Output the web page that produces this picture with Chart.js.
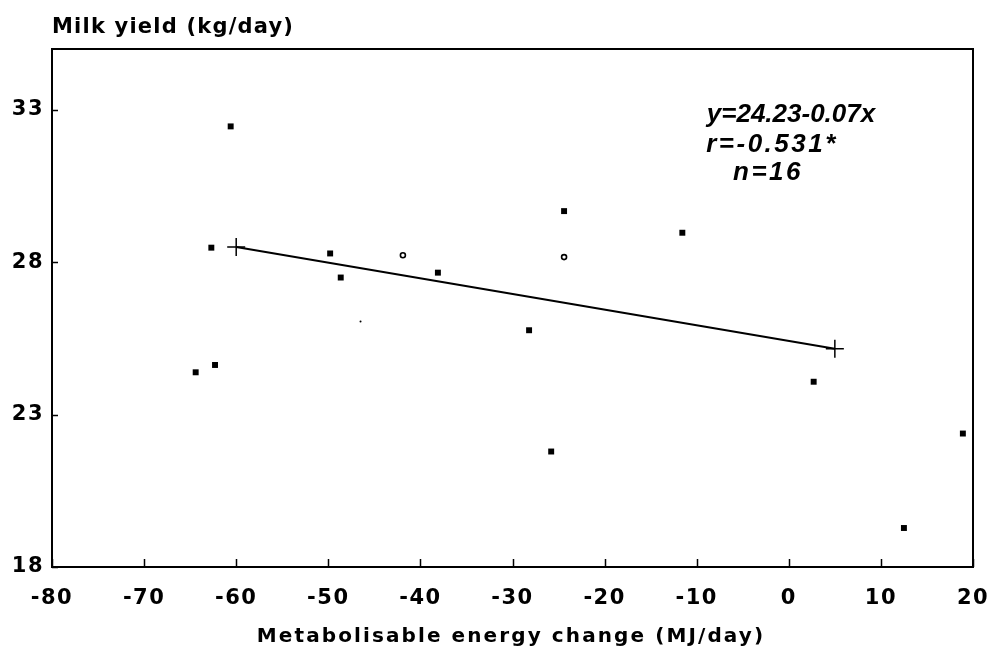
<!DOCTYPE html>
<html>
<head>
<meta charset="utf-8">
<script src="https://cdn.jsdelivr.net/npm/chart.js@4/dist/chart.umd.min.js"></script>
<style>
  body { margin: 0; background: #fff; }
</style>
</head>
<body>
<canvas id="milkChart" width="992" height="649"></canvas>
<script>
// energy change (MJ/day) vs milk yield (kg/day)
const pointsX = [-64.4, -62.3, -62.7, -60.6, -49.8, -48.65, -38.1, -28.2, -25.8, -24.4, -11.56, 2.7, 12.5, 18.9];
const pointsY = [24.39, 24.63, 28.48, 32.46, 28.29, 27.5, 27.66, 25.77, 21.79, 29.68, 28.97, 24.08, 19.28, 22.38];
// the two small open circles
const openX = [-41.9, -24.4];
const openY = [28.23, 28.17];
// tiny dot
const dotX = [-46.5];
const dotY = [26.06];
// fitted line as drawn (end points marked with +)
const fitX = [-60, 5];
const fitY = [28.5, 25.16];

const xTicks = [-80, -70, -60, -50, -40, -30, -20, -10, 0, 10, 20];
const yTicks = [18, 23, 28, 33];
const equationLines = ["y=24.23-0.07x", "r=-0.531*", "n=16"];

const toPoints = (xs, ys) => xs.map((x, i) => ({ x: x, y: ys[i] }));

// wide letter spacing like the plotter font
const spacing = {
	id: "spacing",
	beforeUpdate(chart) {
		chart.ctx.letterSpacing = "1.5px";
	},
	beforeDraw(chart) {
		chart.ctx.letterSpacing = "1.5px";
	},
};

const frameAndTicks = {
	id: "frameAndTicks",
	afterDraw(chart) {
		const {
			ctx,
			chartArea: { top, bottom, left, right },
			scales: { x, y },
		} = chart;
		ctx.save();
		ctx.strokeStyle = "#000";
		ctx.lineWidth = 2;
		ctx.strokeRect(left, top, right - left, bottom - top);

		ctx.lineWidth = 1.5;
		ctx.beginPath();
		xTicks.forEach((v) => {
			const px = Math.round(x.getPixelForValue(v)) + 0.5;
			ctx.moveTo(px, bottom);
			ctx.lineTo(px, bottom - 8);
		});
		yTicks.forEach((v) => {
			const py = Math.round(y.getPixelForValue(v)) + 0.5;
			ctx.moveTo(left, py);
			ctx.lineTo(left + 6, py);
		});
		ctx.stroke();

		// axis titles
		ctx.fillStyle = "#000";
		ctx.textBaseline = "alphabetic";
		ctx.font = "bold 21px 'DejaVu Sans'";
		ctx.letterSpacing = "1.2px";
		ctx.textAlign = "left";
		ctx.fillText("Milk yield (kg/day)", 52, 33);
		ctx.font = "bold 20px 'DejaVu Sans'";
		ctx.letterSpacing = "2.1px";
		ctx.textAlign = "center";
		ctx.fillText("Metabolisable energy change (MJ/day)", 511, 642);

		// regression text
		ctx.font = "italic bold 26px 'Liberation Sans'";
		const centres = [791, 772, 768];
		const baselines = [122, 152, 180];
		const gaps = ["0px", "2.5px", "2.5px"];
		equationLines.forEach((t, i) => {
			ctx.letterSpacing = gaps[i];
			ctx.fillText(t, centres[i], baselines[i]);
		});
		ctx.restore();
	},
};

const ctx = document.getElementById("milkChart");

const tickFont = { family: "'DejaVu Sans'", size: 21, weight: "bold" };

const config = {
	type: "scatter",
	data: {
		datasets: [
			{
				data: toPoints(pointsX, pointsY),
				pointStyle: "rect",
				pointRadius: 4.2,
				backgroundColor: "#000",
				borderColor: "#000",
				borderWidth: 0,
			},
			{
				data: toPoints(openX, openY),
				pointStyle: "circle",
				pointRadius: 2.5,
				backgroundColor: "#fff",
				borderColor: "#000",
				borderWidth: 1.6,
			},
			{
				data: toPoints(dotX, dotY),
				pointStyle: "circle",
				pointRadius: 1,
				backgroundColor: "#000",
				borderWidth: 0,
			},
			{
				type: "line",
				data: toPoints(fitX, fitY),
				borderColor: "#000",
				borderWidth: 2,
				pointStyle: "cross",
				pointRadius: 9,
				pointBorderWidth: 1.5,
				pointBorderColor: "#000",
				fill: false,
			},
		],
	},
	options: {
		responsive: false,
		animation: false,
		layout: {
			padding: { top: 49, right: 19, left: 0, bottom: 0 },
		},
		scales: {
			x: {
				type: "linear",
				min: -80,
				max: 20,
				afterBuildTicks: (scale) => {
					scale.ticks = xTicks.map((v) => ({ value: v }));
				},
				afterFit: (scale) => {
					scale.height = 82;
					scale.paddingLeft = 0;
					scale.paddingRight = 0;
				},
				grid: { display: false, drawTicks: false },
				border: { display: false },
				ticks: {
					color: "#000",
					font: tickFont,
					padding: 19,
					maxRotation: 0,
					callback: (v) => String(v),
				},
			},
			y: {
				type: "linear",
				min: 18,
				max: 35,
				afterBuildTicks: (scale) => {
					scale.ticks = yTicks.map((v) => ({ value: v }));
				},
				afterFit: (scale) => {
					scale.width = 52;
				},
				grid: { display: false, drawTicks: false },
				border: { display: false },
				ticks: {
					color: "#000",
					font: tickFont,
					padding: 8,
					callback: (v) => String(v),
				},
			},
		},
		plugins: {
			legend: false,
			tooltip: { enabled: false },
		},
		hover: { mode: null },
	},
	plugins: [spacing, frameAndTicks],
};

const milkChart = new Chart(ctx, config);
</script>
</body>
</html>
